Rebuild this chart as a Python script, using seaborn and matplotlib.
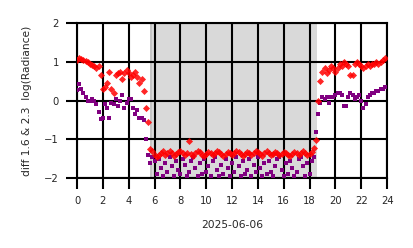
import numpy as np
import pandas as pd
import matplotlib
matplotlib.use("Agg")
import matplotlib.pyplot as plt
import seaborn as sns

# ---- data (10-minute samples, hour of day) ----
red_day = [1.05, 1.10, 1.08, 1.05, 1.02, 1.00, 0.95, 0.92, 0.90, 0.85, 0.88, 0.65,
           0.30, 0.35, 0.45, 0.75, 0.30, 0.20, 0.65, 0.70, 0.75, 0.55, 0.70, 0.80,
           0.72, 0.60, 0.65, 0.75, 0.60, 0.45, 0.55, 0.25, -0.20, -0.55]
red_night = [-1.25, -1.30, -1.40, -1.45, -1.40, -1.35, -1.30, -1.40, -1.35, -1.30,
             -1.35, -1.42, -1.38, -1.33, -1.30, -1.36, -1.40, -1.35, -1.05, -1.38,
             -1.42, -1.36, -1.30, -1.34, -1.40, -1.44, -1.38, -1.32, -1.35, -1.40,
             -1.36, -1.30, -1.33, -1.38, -1.42, -1.37, -1.32, -1.35, -1.40, -1.36,
             -1.31, -1.34, -1.39, -1.43, -1.37, -1.32, -1.36, -1.41, -1.35, -1.30,
             -1.33, -1.38, -1.42, -1.36, -1.31, -1.35, -1.40, -1.37, -1.32, -1.36,
             -1.41, -1.38, -1.33, -1.35, -1.40, -1.44, -1.37, -1.32, -1.36, -1.40,
             -1.35, -1.31, -1.36, -1.40, -1.38, -1.34, -1.22]
red_eve = [-1.03, 0.00, 0.50, 0.75, 0.85, 0.70, 0.80, 0.90, 0.85, 0.75, 0.85,
           0.95, 0.90, 1.00, 0.95, 0.90, 0.65, 0.65, 0.95, 1.00, 0.95, 0.90,
           0.85, 0.90, 0.95, 0.90, 0.95, 0.95, 1.00, 0.95, 1.00, 1.05, 1.10]

purple_day = [0.27, 0.42, 0.30, 0.20, 0.10, 0.00, 0.00, 0.05, 0.00, -0.10, -0.30, -0.47,
              -0.45, -0.10, -0.20, -0.45, -0.05, -0.10, 0.05, -0.15, 0.00, 0.15, -0.20, -0.05,
              0.05, 0.05, -0.20, -0.35, -0.25, -0.45, -0.45, -0.50, -1.00, -1.40]
purple_night = [-1.60, -1.45, -1.55, -1.90, -1.50, -1.75, -1.95, -1.60, -1.85, -1.45,
                -1.70, -1.95, -1.55, -1.80, -1.90, -1.50, -1.65, -1.95, -1.85, -1.55,
                -1.45, -1.75, -1.95, -1.60, -1.90, -1.50, -1.85, -1.70, -1.95, -1.55,
                -1.45, -1.80, -1.95, -1.65, -1.90, -1.50, -1.75, -1.95, -1.60, -1.85,
                -1.45, -1.70, -1.95, -1.55, -1.90, -1.80, -1.50, -1.95, -1.65, -1.85,
                -1.45, -1.75, -1.95, -1.60, -1.90, -1.55, -1.85, -1.95, -1.70, -1.50,
                -1.45, -1.80, -1.95, -1.60, -1.90, -1.55, -1.75, -1.95, -1.85, -1.50,
                -1.45, -1.70, -1.95, -1.60, -1.90, -1.55, -1.45]
purple_eve = [-0.80, -0.35, -0.05, 0.10, 0.05, 0.10, -0.05, 0.10, 0.10, 0.15, 0.20,
              0.20, 0.15, -0.15, -0.15, 0.10, 0.20, 0.15, 0.05, 0.10, 0.15, 0.00,
              -0.20, -0.10, 0.10, 0.15, 0.20, 0.20, 0.25, 0.25, 0.30, 0.30, 0.35]

red = red_day + red_night + red_eve
purple = purple_day + purple_night + purple_eve
hours = np.arange(len(red)) / 6.0

night_start, night_end = 5.66, 18.6
xticks = list(range(0, 25, 2))
yticks = [-2, -1, 0, 1, 2]

df = pd.DataFrame({"hour": hours, "red": red, "purple": purple})

# ---- plot ----
sns.set_style("white")
plt.rcParams["font.family"] = ["DejaVu Sans"]
fig, ax = plt.subplots(figsize=(4.14, 2.48), dpi=100)
fig.subplots_adjust(left=0.186, right=0.935, top=0.907, bottom=0.282)

ax.axvspan(night_start, night_end, color="#d9d9d9", lw=0, zorder=0)
ax.axvspan(night_start, night_start + 0.17, color="#c4c4c4", lw=0, zorder=0)

sns.scatterplot(data=df, x="hour", y="purple", ax=ax, color="#800080", marker="s",
                s=7, linewidth=0, zorder=3)
sns.scatterplot(data=df, x="hour", y="red", ax=ax, color="#ff0000", marker="D",
                s=13, linewidth=0, alpha=0.85, zorder=4)

ax.set_xlim(0, 24)
ax.set_ylim(-2, 2)
ax.set_xticks(xticks)
ax.set_yticks(yticks)
ax.grid(True, color="black", linewidth=1.5, zorder=1)
ax.set_axisbelow(False)
for sp in ax.spines.values():
    sp.set_visible(True)
    sp.set_color("black")
    sp.set_linewidth(1.5)
ax.tick_params(axis="both", which="both", direction="out", length=8, width=1.5,
               pad=5, labelsize=7.2, color="black", bottom=True, left=True)
ax.set_xlabel("2025-06-06", fontsize=7.7, labelpad=10)
ax.set_ylabel("diff 1.6 & 2.3  log(Radiance)", fontsize=7.7, labelpad=9)

fig.savefig("out.png", dpi=100)
